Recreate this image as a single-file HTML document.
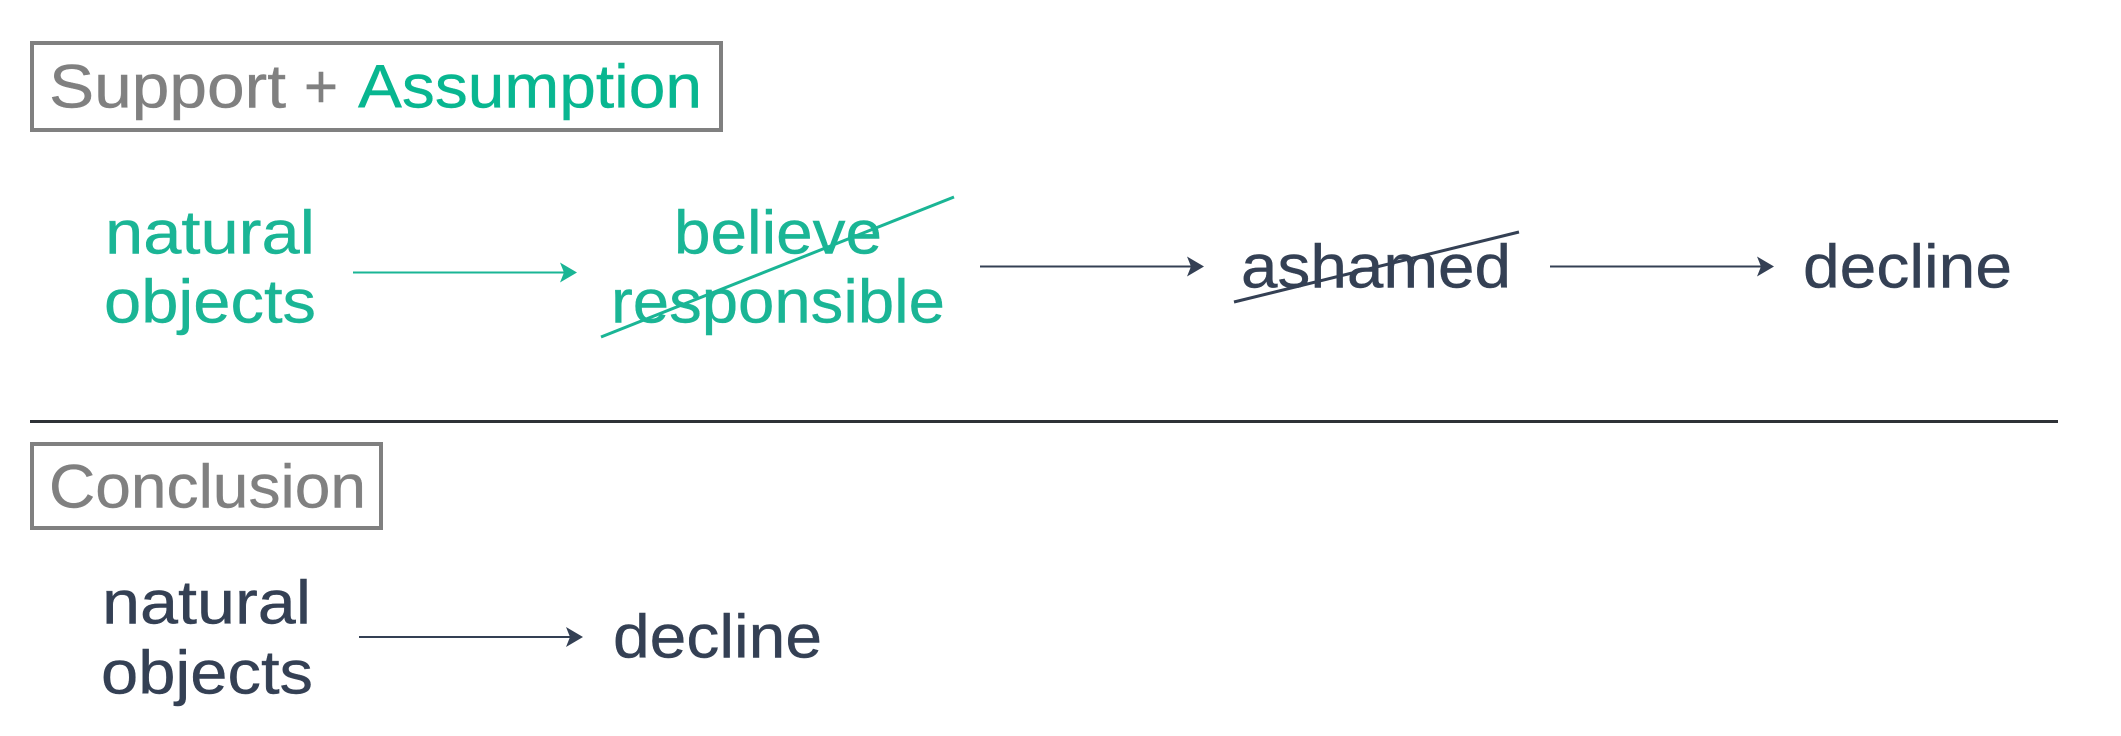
<!DOCTYPE html>
<html><head><meta charset="utf-8"><style>
html,body{margin:0;padding:0;background:#fff;width:2121px;height:736px;overflow:hidden}
svg{display:block}
text{font-family:"Liberation Sans",sans-serif;font-size:61px;stroke-width:.4px}
.t{fill:#1ab595;stroke:#1ab595}.d{fill:#344054;stroke:#344054}.g{fill:#808080;stroke:#808080}
</style></head><body>
<svg width="2121" height="736" viewBox="0 0 2121 736" xmlns="http://www.w3.org/2000/svg">
<rect x="32" y="43" width="689" height="87" fill="none" stroke="#808080" stroke-width="4"/>
<text x="49" y="107.5" class="g" textLength="237" lengthAdjust="spacingAndGlyphs">Support</text>
<text x="304" y="107.5" class="g" textLength="34" lengthAdjust="spacingAndGlyphs">+</text>
<text x="358" y="107.5" fill="#08b690" stroke="#08b690" textLength="344" lengthAdjust="spacingAndGlyphs">Assumption</text>

<text x="105" y="253.5" class="t" textLength="210" lengthAdjust="spacingAndGlyphs">natural</text>
<text x="104" y="322.5" class="t" textLength="212" lengthAdjust="spacingAndGlyphs">objects</text>
<text x="674" y="253.5" class="t" textLength="208" lengthAdjust="spacingAndGlyphs">believe</text>
<text x="611" y="322.5" class="t" textLength="334" lengthAdjust="spacingAndGlyphs">responsible</text>
<line x1="353" y1="272.5" x2="566" y2="272.5" stroke="#1ab595" stroke-width="2"/>
<path d="M560 262.5L577 272.5L560 282.5L564 272.5Z" fill="#1ab595"/>
<line x1="601" y1="337" x2="954" y2="197" stroke="#1ab595" stroke-width="3"/>

<line x1="980" y1="266.5" x2="1192" y2="266.5" stroke="#344054" stroke-width="2"/>
<path d="M1187 256.5L1204 266.5L1187 276.5L1191 266.5Z" fill="#344054"/>
<text x="1241" y="287.5" class="d" textLength="270" lengthAdjust="spacingAndGlyphs">ashamed</text>
<line x1="1234" y1="302" x2="1519" y2="232" stroke="#344054" stroke-width="3"/>
<line x1="1550" y1="266.5" x2="1762" y2="266.5" stroke="#344054" stroke-width="2"/>
<path d="M1757 256.5L1774 266.5L1757 276.5L1761 266.5Z" fill="#344054"/>
<text x="1803" y="287.5" class="d" textLength="209" lengthAdjust="spacingAndGlyphs">decline</text>

<line x1="30" y1="421.5" x2="2058" y2="421.5" stroke="#2f3237" stroke-width="3"/>

<rect x="32" y="444" width="349" height="84" fill="none" stroke="#808080" stroke-width="4"/>
<text x="49" y="507.5" class="g" textLength="317" lengthAdjust="spacingAndGlyphs">Conclusion</text>

<text x="102" y="623.5" class="d" textLength="209" lengthAdjust="spacingAndGlyphs">natural</text>
<text x="101" y="693.5" class="d" textLength="212" lengthAdjust="spacingAndGlyphs">objects</text>
<line x1="359" y1="637" x2="571" y2="637" stroke="#344054" stroke-width="2"/>
<path d="M566 627L583 637L566 647L570 637Z" fill="#344054"/>
<text x="613" y="657.5" class="d" textLength="209" lengthAdjust="spacingAndGlyphs">decline</text>
</svg>
</body></html>
